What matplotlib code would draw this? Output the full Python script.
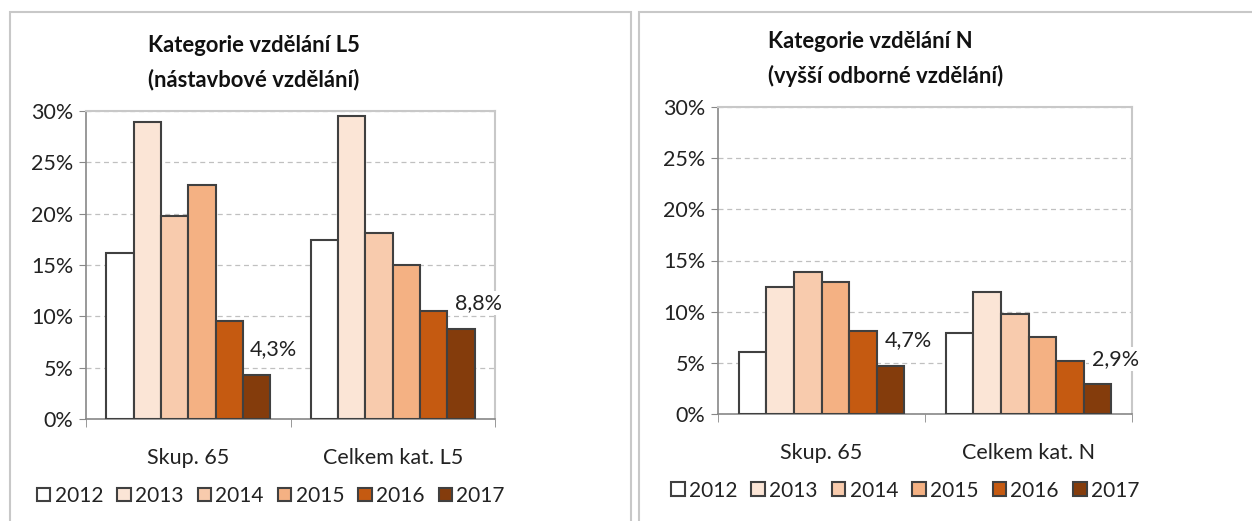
import numpy as np
import matplotlib.pyplot as plt
from matplotlib.patches import Rectangle
from matplotlib.ticker import PercentFormatter

years = ["2012", "2013", "2014", "2015", "2016", "2017"]
colors = ["#FFFFFF", "#FBE5D6", "#F8CBAD", "#F4B183", "#C55A11", "#843C0C"]

cats_l5 = ["Skup. 65", "Celkem kat. L5"]
vals_l5_skup = [16.2, 28.9, 19.8, 22.8, 9.5, 4.3]
vals_l5_celkem = [17.4, 29.5, 18.1, 15.0, 10.5, 8.8]

cats_n = ["Skup. 65", "Celkem kat. N"]
vals_n_skup = [6.1, 12.4, 13.9, 12.9, 8.1, 4.7]
vals_n_celkem = [7.9, 11.9, 9.8, 7.5, 5.2, 2.9]

plt.rcParams["font.family"] = ["Lato", "DejaVu Sans"]

W, H = 1252, 521
fig = plt.figure(figsize=(W / 100, H / 100), dpi=100)


def px(x0, y0, x1, y1):
    # pixel box -> figure fraction rect
    return [x0 / W, 1 - y1 / H, (x1 - x0) / W, (y1 - y0) / H]


def panel(rect, title, title_xy, cats, skup, celkem):
    ax = fig.add_axes(rect)
    data = np.array([skup, celkem])
    x = np.arange(len(cats))
    bw = 0.8 / len(years)
    for i, (yr, col) in enumerate(zip(years, colors)):
        ax.bar(x - 0.4 + bw * (i + 0.5), data[:, i], bw, color=col,
               edgecolor="#404040", linewidth=1.5, label=yr, zorder=3)
    # labels for last year
    for j in range(len(cats)):
        v = data[j, -1]
        ax.text(x[j] - 0.4 + bw * 5.5 + 0.085, v + 2.5,
                f"{v:.1f}%".replace(".", ","), ha="center", va="center",
                fontsize=15.5, color="#222222", zorder=5,
                bbox=dict(facecolor="white", edgecolor="none", pad=1.5))
    ax.set_xlim(-0.5, 1.5)
    ax.set_ylim(0, 30)
    ax.set_yticks(np.arange(0, 31, 5))
    ax.yaxis.set_major_formatter(PercentFormatter(decimals=0))
    ax.set_xticks(x)
    ax.set_xticklabels(cats)
    ax.set_xticks([-0.5, 0.5, 1.5], minor=True)
    ax.tick_params(axis="x", which="major", length=0, pad=21, labelsize=15.5,
                   labelcolor="#222222")
    ax.tick_params(axis="x", which="minor", length=6, color="#888888")
    ax.tick_params(axis="y", length=5, color="#888888", labelsize=15.5,
                   labelcolor="#222222", pad=4)
    ax.grid(axis="y", linestyle=(0, (4, 3)), color="#C0C0C0", linewidth=0.9,
            zorder=0)
    for s in ["top", "right"]:
        ax.spines[s].set_color("#C8C8C8")
        ax.spines[s].set_linewidth(1.5)
    for s in ["left", "bottom"]:
        ax.spines[s].set_color("#888888")
        ax.spines[s].set_linewidth(1.2)
    fig.text(title_xy[0] / W, 1 - title_xy[1] / H, title, ha="left",
             va="center", fontsize=15.8, fontweight="bold", linespacing=1.7,
             color="#111111")
    ax.legend(loc="upper center", bbox_to_anchor=(0.452, -0.19), ncol=6,
              frameon=False, fontsize=15, handlelength=0.65, handleheight=0.65,
              handletextpad=0.2, columnspacing=0.68, borderaxespad=0,
              labelcolor="#222222")
    return ax


a1 = panel(px(86, 111, 495, 419),
           "Kategorie vzdělání L5\n(nástavbové vzdělání)", (148, 63),
           cats_l5, vals_l5_skup, vals_l5_celkem)
a2 = panel(px(718, 107, 1132, 414),
           "Kategorie vzdělání N\n(vyšší odborné vzdělání)", (768, 59),
           cats_n, vals_n_skup, vals_n_celkem)

# panel frames
for x0, x1 in [(10, 631), (639, 1260)]:
    fig.add_artist(Rectangle((x0 / W, -0.1), (x1 - x0) / W, 1 - 12 / H + 0.1,
                             transform=fig.transFigure, fill=False,
                             edgecolor="#C8C8C8", linewidth=1.5))

fig.savefig("out.png", dpi=100, facecolor="white")
